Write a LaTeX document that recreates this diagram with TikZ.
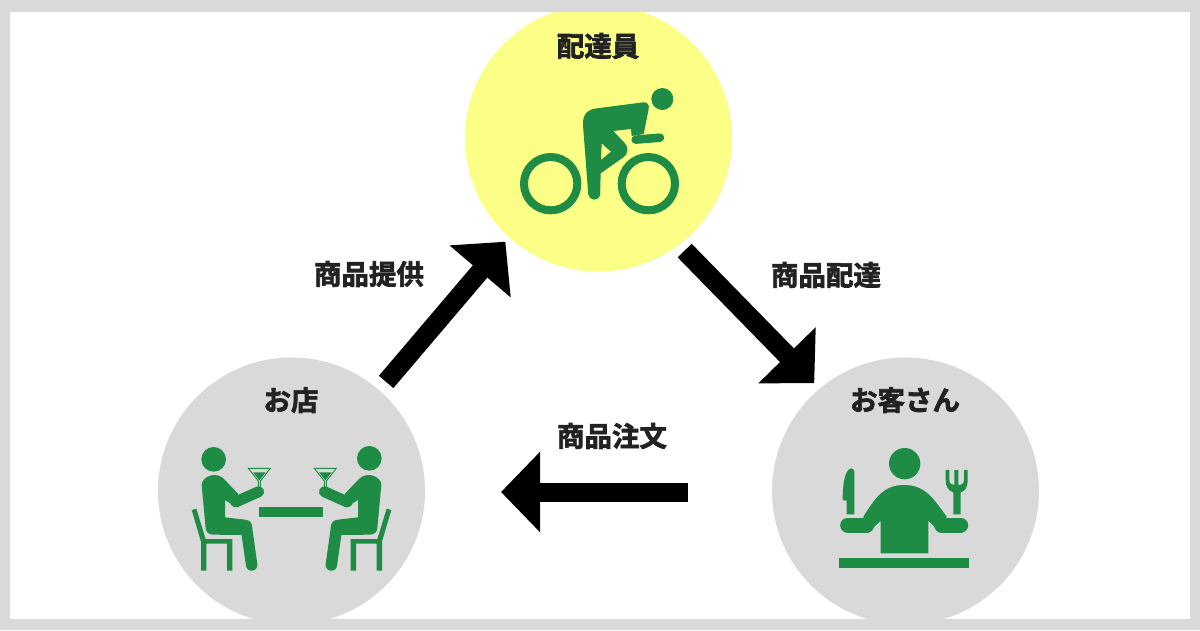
\documentclass[tikz,border=0pt]{standalone}
\usepackage{fontspec}
\setmainfont{Noto Sans CJK JP}[BoldFont={* Bold},BoldFeatures={FakeBold=2.4}]
\usetikzlibrary{arrows.meta}
\definecolor{framegray}{HTML}{D9D9D9}
\definecolor{iconyellow}{HTML}{FBFF85}
\definecolor{icongreen}{HTML}{1E8C45}
\definecolor{labelblack}{HTML}{222222}
\tikzset{
  rolecircle/.style={circle,minimum size=267pt,inner sep=0pt,outer sep=0pt},
  rolelabel/.style={font=\bfseries\fontsize{27.5}{27.5}\selectfont,text=labelblack,inner sep=0pt},
  flowarrow/.style={line width=19pt,-{Triangle[length=39pt,width=78pt]}},
  limb/.style={draw=icongreen,line cap=round}
}
% seated person with chair, drawn in the crop coordinates of the left side
\newcommand{\dinerbody}{
  \fill[icongreen] (95,165) .. controls (95,140) and (140,120) .. (165,150)
    -- (205,192) -- (200,232) -- (165,210) -- (165,262) -- (225,269)
    .. controls (240,270) and (247,280) .. (247,295) -- (212,315)
    -- (130,314) .. controls (115,314) and (108,305) .. (107,295) -- cycle;
  \draw[limb,line width=11pt] (197,216) -- (266,185);
  \draw[limb,line width=11.5pt] (229,292) -- (245,405);
  \fill[icongreen] (65,240) -- (79,236) -- (107,327) -- (187,327) -- (187,422) -- (171,422)
    -- (171,341) -- (109,341) -- (109,422) -- (93,422) -- (93,335) -- cycle;
}
% martini glass
\newcommand{\dinerglass}{
  \draw[icongreen,line width=.9pt] (-33,-2) -- (33,-2) -- (3,36) -- (3,56) -- (-3,56) -- (-3,36) -- cycle;
  \fill[icongreen] (-19,10) -- (19,10) -- (0,34) -- cycle;
}
\begin{document}
\begin{tikzpicture}[x=1pt,y=-1pt]
  \useasboundingbox (0,0) rectangle (1200,630);
  \fill[white] (0,0) rectangle (1200,630);

  \node[rolecircle,fill=iconyellow] (courier) at (598.5,138) {};
  \node[rolecircle,fill=framegray] (shop) at (291.5,491) {};
  \node[rolecircle,fill=framegray] (customer) at (905.5,491) {};

  % cyclist
  \begin{scope}[shift={(500,70)},x=1pt/3,y=-1pt/3]
    \fill[icongreen] (487,87) circle[radius=33];
    \draw[icongreen,line width=8pt] (152,341) circle[radius=80] (445,341) circle[radius=80];
    \fill[icongreen,even odd rule] (249,165) .. controls (247,135) and (262,118) .. (290,115)
      -- (430,97) .. controls (442,96) and (449,105) .. (446,117) -- (431,192) -- (395,198)
      -- (393,177) -- (340,183) -- (375,220) .. controls (386,232) and (385,252) .. (370,262)
      -- (302,310) -- (300,375) -- (265,375) -- cycle
      (305,220) -- (333,245) -- (303,270) -- cycle;
    \draw[limb,line width=8.5pt] (407,209) -- (480,203);
    \draw[limb,line width=11.7pt] (282,330) -- (283,371);
  \end{scope}

  % diners
  \begin{scope}[shift={(170,430)},x=1pt/3,y=-1pt/3]
    \fill[icongreen] (131,88) circle[radius=37];
    \fill[icongreen] (598,85) circle[radius=37];
    \dinerbody
    \begin{scope}[xshift=729/3*1pt,xscale=-1]
      \dinerbody
    \end{scope}
    \fill[icongreen] (267,232) rectangle (459,261);
    \begin{scope}[shift={(268,117)}]
      \dinerglass
    \end{scope}
    \begin{scope}[shift={(466,117)}]
      \dinerglass
    \end{scope}
  \end{scope}

  % customer with knife and fork
  \begin{scope}[shift={(820,430)},x=1pt/3,y=-1pt/3]
    \fill[icongreen] (254,101) circle[radius=47];
    \fill[icongreen] (130,260) .. controls (165,205) and (190,165) .. (252,165)
      .. controls (315,165) and (340,205) .. (380,260) -- (360,308) -- (325,272)
      -- (325,370) -- (182,370) -- (182,272) -- (145,308) -- cycle;
    \draw[limb,line width=15pt] (83,285) -- (140,285);
    \draw[limb,line width=15pt] (365,285) -- (422,285);
    \fill[icongreen] (57,383) rectangle (447,414);
    \fill[icongreen] (80,253) -- (103,253) -- (103,125) .. controls (100,113) and (92,113) .. (85,120)
      .. controls (72,135) and (68,170) .. (68,210) -- (80,212) -- cycle;
    \fill[icongreen] (400,253) -- (400,187) .. controls (385,183) and (377,170) .. (377,150)
      -- (377,120) -- (388,120) -- (388,150) .. controls (388,160) and (395,165) .. (403,165) -- (403,120)
      -- (415,120) -- (415,165) .. controls (425,165) and (432,160) .. (432,150) -- (432,120) -- (443,120)
      -- (443,150) .. controls (443,170) and (437,183) .. (422,187) -- (422,253) -- cycle;
  \end{scope}

  \node[rolelabel] (courierlabel) at (598,46) {配達員};
  \node[rolelabel] (shoplabel) at (291,400) {お店};
  \node[rolelabel] (customerlabel) at (905,400) {お客さん};
  \node[rolelabel] (supplylabel) at (369,274) {商品提供};
  \node[rolelabel] (deliverylabel) at (826,275) {商品配達};
  \node[rolelabel] (orderlabel) at (612,436) {商品注文};

  \draw[flowarrow,shorten <=10.9pt,shorten >=5.9pt] (shop.49.9) -- (courier.228.5);
  \draw[flowarrow,line width=19.5pt,shorten <=8.3pt,shorten >=7.8pt] (courier.-53.3) -- (customer.130.1);
  \draw[flowarrow,shorten <=84pt,shorten >=76pt] (customer.west |- 0,492) -- (shop.east |- 0,492);

  % frame on top of the circles
  \fill[framegray,even odd rule] (0,0) rectangle (1200,630) (10,12) rectangle (1190,619);
\end{tikzpicture}
\end{document}
